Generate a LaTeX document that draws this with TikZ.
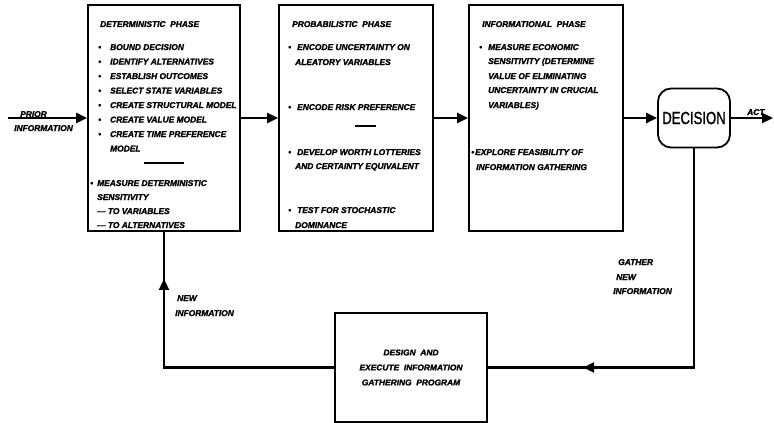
\documentclass[tikz,border=0pt]{standalone}
\usepackage{fontspec}
\setmainfont{Liberation Sans}
\newfontfamily\handfont[BoldItalicFeatures={FakeBold=1.6}]{Liberation Sans}
\newfontfamily\decfont[FakeStretch=0.75,FakeBold=1.2]{Liberation Sans}
\usetikzlibrary{arrows.meta,decorations.markings}
\newcommand{\itm}[2][12pt]{\makebox[#1][l]{\textbullet}#2}

\begin{document}
\begin{tikzpicture}[x=1pt,y=-1pt,>={Triangle[length=11pt,width=10pt]},
  phase/.style={draw,line width=1.8pt,inner sep=0pt},
  txt/.style={anchor=west,inner sep=0pt,text height=6pt,text depth=0pt,
    font=\handfont\fontsize{8.4}{10}\selectfont\bfseries\itshape},
  flow/.style={line width=2.2pt}]
\useasboundingbox (0,0) rectangle (774,423);
% phases
\node[phase,minimum width=152,minimum height=226] (det) at (164,118) {};
\node[phase,minimum width=154,minimum height=226] (prob) at (356,118) {};
\node[phase,minimum width=154,minimum height=226] (info) at (546,118) {};
\node[phase,rounded corners=13pt,minimum width=72,minimum height=59,
  font=\decfont\fontsize{17.5}{17.5}\selectfont] (dec) at (694,118) {DECISION};
\node[phase,minimum width=152,minimum height=109,align=center,
  font=\handfont\fontsize{8.4}{15}\selectfont\bfseries\itshape] (design) at (411,367.5)
  {DESIGN\ \ AND\\EXECUTE\ \ INFORMATION\\GATHERING\ \ PROGRAM};
% box texts
\foreach \x/\y/\t [count=\i] in {100/24/{DETERMINISTIC\ \ PHASE},
  98/47/{\itm{BOUND DECISION}}, 98/61.5/{\itm{IDENTIFY ALTERNATIVES}},
  98/76/{\itm{ESTABLISH OUTCOMES}}, 98/90.5/{\itm{SELECT STATE VARIABLES}},
  98/105/{\itm{CREATE STRUCTURAL MODEL}}, 98/119.5/{\itm{CREATE VALUE MODEL}},
  98/134/{\itm{CREATE TIME PREFERENCE}}, 110/148.5/{MODEL},
  90/183/{\itm[7pt]{MEASURE DETERMINISTIC}}, 97/197/{SENSITIVITY},
  97/211/{\textemdash\ TO VARIABLES}, 97/225/{\textemdash\ TO ALTERNATIVES}}
  \node[txt] (det\i) at (\x,\y) {\t};
\foreach \x/\y/\t [count=\i] in {292/24/{PROBABILISTIC\ \ PHASE},
  288/47/{\itm[9pt]{ENCODE UNCERTAINTY ON}}, 295/62/{ALEATORY VARIABLES},
  288/107/{\itm[9pt]{ENCODE RISK PREFERENCE}},
  288/152/{\itm[9pt]{DEVELOP WORTH LOTTERIES}}, 295/166/{AND CERTAINTY EQUIVALENT},
  288/210/{\itm[9pt]{TEST FOR STOCHASTIC}}, 295/225/{DOMINANCE}}
  \node[txt] (prob\i) at (\x,\y) {\t};
\foreach \x/\y/\t [count=\i] in {482/24/{INFORMATIONAL\ \ PHASE},
  479/47/{\itm[9pt]{MEASURE ECONOMIC}}, 488/61/{SENSITIVITY (DETERMINE},
  488/76/{VALUE OF ELIMINATING}, 488/90/{UNCERTAINTY IN CRUCIAL},
  488/105/{VARIABLES)},
  471/152/{\itm[4pt]{EXPLORE FEASIBILITY OF}}, 476/167/{INFORMATION GATHERING}}
  \node[txt] (info\i) at (\x,\y) {\t};
\draw[line width=1.8pt] (144,163) -- (184,163);
\draw[line width=1.8pt] (355,126) -- (376,126);
% flow
\coordinate (prior) at (8,118);
\coordinate (act) at (773,118);
\draw[flow,->] (prior) -- (det);
\draw[flow,->] (det) -- (prob);
\draw[flow,->] (prob) -- (info);
\draw[flow,->] (info) -- (dec);
\draw[flow,->] (dec) -- (act);
\draw[flow,postaction={decorate},decoration={markings,
  mark=at position 0.776 with {\arrow{>}}}] (dec.south) |- (design.east);
\draw[flow,postaction={decorate},decoration={markings,
  mark=at position 0.846 with {\arrow{>}}}] (design.west) -| (det.south);
% labels
\node[txt] (priorlbl) at (20,114) {PRIOR};
\node[txt] (priorlbl2) at (14,128) {INFORMATION};
\node[txt] (actlbl) at (747,112) {ACT};
\node[txt] (gath1) at (618,262) {GATHER};
\node[txt] (gath2) at (616,277) {NEW};
\node[txt] (gath3) at (613,291) {INFORMATION};
\node[txt] (new1) at (177,298) {NEW};
\node[txt] (new2) at (175,313) {INFORMATION};
\end{tikzpicture}
\end{document}
